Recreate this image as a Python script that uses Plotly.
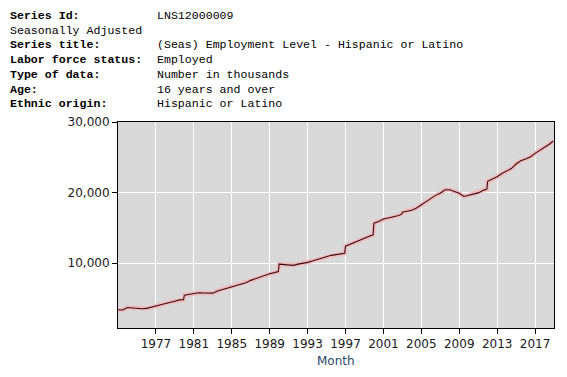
import plotly.graph_objects as go

# ---- data ----
months = [
    "1973-01", "1973-07", "1974-01", "1974-07", "1975-01", "1975-07", "1976-01", "1976-07",
    "1977-01", "1977-07", "1978-01", "1978-07", "1979-01", "1979-07", "1979-12",
    "1980-01", "1980-07", "1981-01", "1981-07", "1982-01", "1982-07", "1983-01", "1983-07",
    "1984-01", "1984-07", "1985-01", "1985-07", "1986-01", "1986-07", "1987-01", "1987-07",
    "1988-01", "1988-07", "1989-01", "1989-07", "1989-12",
    "1990-01", "1990-07", "1991-01", "1991-07", "1992-01", "1992-07", "1993-01", "1993-07",
    "1994-01", "1994-07", "1995-01", "1995-07", "1996-01", "1996-07", "1996-12",
    "1997-01", "1997-07", "1998-01", "1998-07", "1999-01", "1999-07", "1999-12",
    "2000-01", "2000-07", "2001-01", "2001-07", "2002-01", "2002-07", "2002-12",
    "2003-01", "2003-07", "2004-01", "2004-07", "2005-01", "2005-07", "2006-01", "2006-07",
    "2007-01", "2007-07", "2008-01", "2008-07", "2009-01", "2009-07", "2010-01", "2010-07",
    "2011-01", "2011-07", "2011-12",
    "2012-01", "2012-07", "2013-01", "2013-07", "2014-01", "2014-07", "2015-01", "2015-07",
    "2016-01", "2016-07", "2017-01", "2017-07", "2018-01", "2018-07", "2018-12",
]
employed = [
    3380, 3350, 3700, 3650, 3560, 3520, 3580, 3700,
    3920, 4100, 4300, 4480, 4600, 4780, 4800,
    5450, 5600, 5740, 5800, 5760, 5740, 5740, 6050,
    6250, 6450, 6620, 6900, 7020, 7200, 7550, 7800,
    8050, 8250, 8500, 8650, 8800,
    9850, 9800, 9700, 9680, 9850, 9950, 10100, 10300,
    10500, 10700, 10950, 11100, 11200, 11300, 11400,
    12400, 12700, 13000, 13300, 13500, 13800, 14000,
    15650, 15900, 16250, 16400, 16500, 16700, 16900,
    17200, 17350, 17500, 17800, 18250, 18600, 19100, 19600,
    19900, 20400, 20400, 20200, 19900, 19450, 19600, 19800,
    19950, 20300, 20500,
    21600, 21900, 22250, 22700, 23050, 23400, 24050, 24500,
    24750, 25050, 25550, 25950, 26400, 26850, 27300,
]
y_ticks = [10000, 20000, 30000]
x_tick_years = [1977, 1981, 1985, 1989, 1993, 1997, 2001, 2005, 2009, 2013, 2017]

header_labels = ["Series Id:", "", "Series title:", "Labor force status:",
                 "Type of data:", "Age:", "Ethnic origin:"]
header_values = ["LNS12000009", "Seasonally Adjusted", "(Seas) Employment Level - Hispanic or Latino",
                 "Employed", "Number in thousands", "16 years and over", "Hispanic or Latino"]

# ---- figure ----
W, H = 567, 377
L, R, T, B = 118, 13, 122, 49
pw, ph = W - L - R, H - T - B

fig = go.Figure()
fig.add_trace(go.Scatter(x=months, y=employed, mode="lines",
                         line=dict(color="#efbcbc", width=4.5), hoverinfo="skip", showlegend=False))
fig.add_trace(go.Scatter(x=months, y=employed, mode="lines",
                         line=dict(color="#3a0a10", width=1.1), showlegend=False))

def px2paper(px, py):
    return (px - L) / pw, (H - B - py) / ph

annotations = []
line_y = [15, 30, 45, 60, 74.5, 89, 103.5]
mono = "Liberation Mono, Courier New, monospace"
for i, yy in enumerate(line_y):
    lab = header_labels[i]
    val = header_values[i]
    if lab:
        x0, y0 = px2paper(8.5, yy)
        annotations.append(dict(x=x0, y=y0, xref="paper", yref="paper", text="<b>" + lab + "</b>",
                                showarrow=False, xanchor="left", yanchor="middle",
                                font=dict(family=mono, size=11.6, color="#000000")))
        x1, _ = px2paper(155, yy)
    else:
        x1, _ = px2paper(8.5, yy)
    y1 = (H - B - yy) / ph
    annotations.append(dict(x=x1, y=y1, xref="paper", yref="paper", text=val,
                            showarrow=False, xanchor="left", yanchor="middle",
                            font=dict(family=mono, size=11.6, color="#000000")))

# axis title as annotation, centred under the plot
mx, my = px2paper(L + pw / 2, 361)
annotations.append(dict(x=0.5, y=my, xref="paper", yref="paper", text="Month",
                        showarrow=False, xanchor="center", yanchor="middle",
                        font=dict(family="DejaVu Sans, Verdana, sans-serif", size=12, color="#2a4a6a")))

fig.update_layout(
    width=W, height=H,
    margin=dict(l=L, r=R, t=T, b=B, pad=0, autoexpand=False),
    paper_bgcolor="#ffffff",
    plot_bgcolor="#d9d9d9",
    font=dict(family="DejaVu Sans, Verdana, sans-serif", size=12, color="#222222"),
    annotations=annotations,
    xaxis=dict(
        type="date",
        automargin=False,
        range=["1973-01-01", "2018-12-31"],
        tickvals=[f"{y}-01-01" for y in x_tick_years],
        ticktext=[str(y) for y in x_tick_years],
        ticks="outside", ticklen=5, tickcolor="#000000",
        showline=True, linecolor="#000000", linewidth=1, mirror=True,
        showgrid=True, gridcolor="#ffffff", gridwidth=1,
        zeroline=False,
        tickfont=dict(size=12, color="#1a1a1a"),
    ),
    yaxis=dict(
        automargin=False,
        range=[800, 30000],
        tickvals=y_ticks,
        tickformat=",d",
        ticks="outside", ticklen=5, tickcolor="#000000",
        showline=True, linecolor="#000000", linewidth=1, mirror=True,
        showgrid=True, gridcolor="#ffffff", gridwidth=1,
        zeroline=False,
        tickfont=dict(size=12, color="#1a1a1a"),
    ),
)

fig.write_html("out.html", config={"displayModeBar": False},
               post_script="document.body.style.margin='0';document.body.style.overflow='hidden';")
